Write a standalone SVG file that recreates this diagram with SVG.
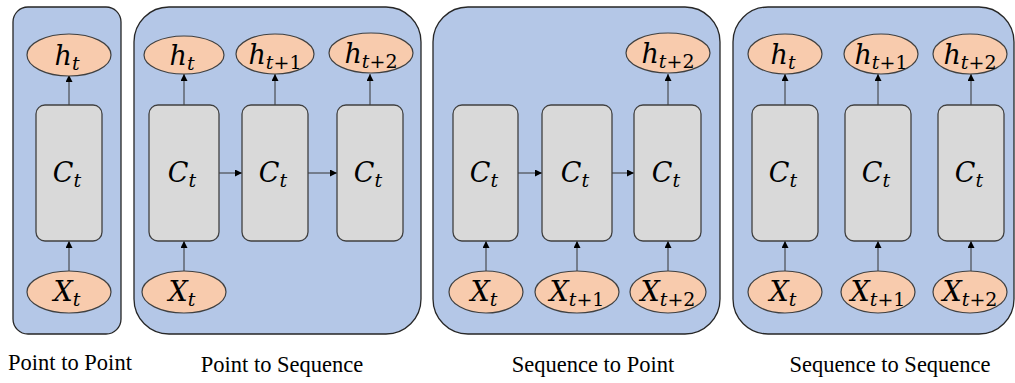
<svg xmlns="http://www.w3.org/2000/svg" width="1015" height="383" viewBox="0 0 1015 383">
<defs>
<marker id="ah" viewBox="0 0 10 10" refX="10" refY="5" markerWidth="7" markerHeight="7" markerUnits="userSpaceOnUse" orient="auto"><path d="M0,0 L10,5 L0,10 Z" fill="#000"/></marker>
<style>
.panel{fill:#B4C7E7;stroke:#262626;stroke-width:1.3}
.cell{fill:#D9D9D9;stroke:#404040;stroke-width:1.3}
.io{fill:#F8CBAD;stroke:#404040;stroke-width:1.2}
.m{font-family:'DejaVu Serif',serif;font-style:italic;font-size:27px;fill:#000;text-anchor:middle}
.s{font-size:19px}
.u{font-style:normal}
.cap{font-family:'Liberation Serif',serif;font-size:22.5px;fill:#000;text-anchor:middle}
.cn{stroke:#333;stroke-width:1;fill:none;marker-end:url(#ah)}
</style>
</defs>
<g id="panels">
<rect class="panel" x="13" y="7" width="108" height="327" rx="15"/>
<rect class="panel" x="134" y="7" width="287" height="327" rx="35"/>
<rect class="panel" x="433" y="7" width="287" height="327" rx="35"/>
<rect class="panel" x="733" y="7" width="281" height="327" rx="35"/>
</g>
<g id="connectors">
<line class="cn" x1="69" y1="105" x2="69" y2="75"/>
<line class="cn" x1="69" y1="272" x2="69" y2="241"/>
<line class="cn" x1="184" y1="105" x2="184" y2="74"/>
<line class="cn" x1="184" y1="272" x2="184" y2="241"/>
<line class="cn" x1="275" y1="105" x2="275" y2="74"/>
<line class="cn" x1="370" y1="105" x2="370" y2="74"/>
<line class="cn" x1="219" y1="173" x2="242" y2="173"/>
<line class="cn" x1="308" y1="173" x2="337" y2="173"/>
<line class="cn" x1="518" y1="173" x2="542" y2="173"/>
<line class="cn" x1="612" y1="173" x2="634" y2="173"/>
<line class="cn" x1="486" y1="272" x2="486" y2="241"/>
<line class="cn" x1="577" y1="272" x2="577" y2="241"/>
<line class="cn" x1="668" y1="272" x2="668" y2="241"/>
<line class="cn" x1="668" y1="105" x2="668" y2="74"/>
<line class="cn" x1="785" y1="105" x2="785" y2="74"/>
<line class="cn" x1="878" y1="105" x2="878" y2="74"/>
<line class="cn" x1="971" y1="105" x2="971" y2="74"/>
<line class="cn" x1="785" y1="272" x2="785" y2="241"/>
<line class="cn" x1="878" y1="272" x2="878" y2="241"/>
<line class="cn" x1="971" y1="272" x2="971" y2="241"/>
</g>
<g id="p1-h"><ellipse class="io" cx="69" cy="55" rx="42" ry="21"/><text class="m" x="67" y="65">h<tspan class="s" dy="5">t</tspan></text></g>
<g id="p1-c"><rect class="cell" x="36" y="105" width="66" height="136" rx="9"/><text class="m" x="67" y="182">C<tspan class="s" dy="5">t</tspan></text></g>
<g id="p1-x"><ellipse class="io" cx="69" cy="292" rx="42" ry="21"/><text class="m" x="67" y="301">X<tspan class="s" dy="5">t</tspan></text></g>

<g id="p2-h1"><ellipse class="io" cx="184" cy="55" rx="40" ry="19"/><text class="m" x="182" y="65">h<tspan class="s" dy="5">t</tspan></text></g>
<g id="p2-h2"><ellipse class="io" cx="275" cy="54" rx="39" ry="20"/><text class="m" x="275" y="64">h<tspan class="s" dy="5">t<tspan class="u">+1</tspan></tspan></text></g>
<g id="p2-h3"><ellipse class="io" cx="371" cy="53" rx="42" ry="20"/><text class="m" x="371" y="63">h<tspan class="s" dy="5">t<tspan class="u">+2</tspan></tspan></text></g>
<g id="p2-c1"><rect class="cell" x="149" y="105" width="70" height="136" rx="9"/><text class="m" x="182" y="182">C<tspan class="s" dy="5">t</tspan></text></g>
<g id="p2-c2"><rect class="cell" x="242" y="105" width="66" height="136" rx="9"/><text class="m" x="273" y="182">C<tspan class="s" dy="5">t</tspan></text></g>
<g id="p2-c3"><rect class="cell" x="337" y="105" width="66" height="136" rx="9"/><text class="m" x="368" y="182">C<tspan class="s" dy="5">t</tspan></text></g>
<g id="p2-x1"><ellipse class="io" cx="184" cy="292" rx="42" ry="21"/><text class="m" x="182" y="301">X<tspan class="s" dy="5">t</tspan></text></g>

<g id="p3-h3"><ellipse class="io" cx="668" cy="53" rx="42" ry="20"/><text class="m" x="668" y="63">h<tspan class="s" dy="5">t<tspan class="u">+2</tspan></tspan></text></g>
<g id="p3-c1"><rect class="cell" x="453" y="105" width="65" height="136" rx="9"/><text class="m" x="484" y="182">C<tspan class="s" dy="5">t</tspan></text></g>
<g id="p3-c2"><rect class="cell" x="542" y="105" width="70" height="136" rx="9"/><text class="m" x="575" y="182">C<tspan class="s" dy="5">t</tspan></text></g>
<g id="p3-c3"><rect class="cell" x="634" y="105" width="67" height="136" rx="9"/><text class="m" x="666" y="182">C<tspan class="s" dy="5">t</tspan></text></g>
<g id="p3-x1"><ellipse class="io" cx="486" cy="292" rx="37" ry="21"/><text class="m" x="484" y="301">X<tspan class="s" dy="5">t</tspan></text></g>
<g id="p3-x2"><ellipse class="io" cx="577" cy="292" rx="42" ry="21"/><text class="m" x="577" y="301">X<tspan class="s" dy="5">t<tspan class="u">+1</tspan></tspan></text></g>
<g id="p3-x3"><ellipse class="io" cx="668" cy="292" rx="38" ry="21"/><text class="m" x="668" y="301">X<tspan class="s" dy="5">t<tspan class="u">+2</tspan></tspan></text></g>

<g id="p4-h1"><ellipse class="io" cx="785" cy="54" rx="37" ry="20"/><text class="m" x="783" y="64">h<tspan class="s" dy="5">t</tspan></text></g>
<g id="p4-h2"><ellipse class="io" cx="881" cy="54" rx="37" ry="20"/><text class="m" x="881" y="64">h<tspan class="s" dy="5">t<tspan class="u">+1</tspan></tspan></text></g>
<g id="p4-h3"><ellipse class="io" cx="970" cy="54" rx="37" ry="20"/><text class="m" x="970" y="64">h<tspan class="s" dy="5">t<tspan class="u">+2</tspan></tspan></text></g>
<g id="p4-c1"><rect class="cell" x="752" y="105" width="66" height="136" rx="9"/><text class="m" x="783" y="182">C<tspan class="s" dy="5">t</tspan></text></g>
<g id="p4-c2"><rect class="cell" x="845" y="105" width="66" height="136" rx="9"/><text class="m" x="876" y="182">C<tspan class="s" dy="5">t</tspan></text></g>
<g id="p4-c3"><rect class="cell" x="938" y="105" width="66" height="136" rx="9"/><text class="m" x="969" y="182">C<tspan class="s" dy="5">t</tspan></text></g>
<g id="p4-x1"><ellipse class="io" cx="785" cy="292" rx="37" ry="21"/><text class="m" x="783" y="301">X<tspan class="s" dy="5">t</tspan></text></g>
<g id="p4-x2"><ellipse class="io" cx="878" cy="292" rx="37" ry="21"/><text class="m" x="878" y="301">X<tspan class="s" dy="5">t<tspan class="u">+1</tspan></tspan></text></g>
<g id="p4-x3"><ellipse class="io" cx="970" cy="292" rx="37" ry="21"/><text class="m" x="970" y="301">X<tspan class="s" dy="5">t<tspan class="u">+2</tspan></tspan></text></g>

<g id="captions">
<text class="cap" x="70" y="370">Point to Point</text>
<text class="cap" x="282" y="372">Point to Sequence</text>
<text class="cap" x="593" y="372">Sequence to Point</text>
<text class="cap" x="890" y="372">Sequence to Sequence</text>
</g>
</svg>
